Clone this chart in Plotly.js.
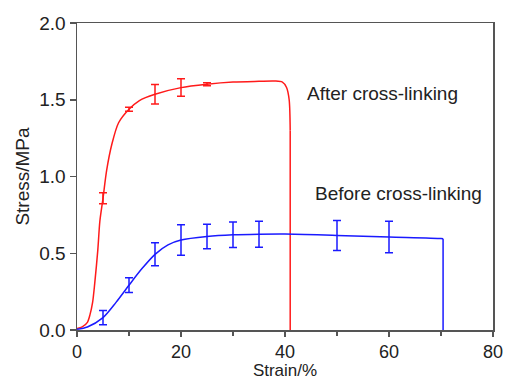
<!DOCTYPE html>
<html>
<head>
<meta charset="utf-8">
<script src="https://cdn.plot.ly/plotly-3.0.1.min.js"></script>
<style>html,body{margin:0;padding:0;background:#fff}#chart{width:506px;height:380px}</style>
</head>
<body>
<div id="chart"></div>
<script>
// After cross-linking: stress-strain curve
const afterStrain = [0, 1, 2, 2.5, 3, 3.4, 4, 4.4, 5, 5.7, 6.7, 8, 10, 12, 15, 20, 25, 30, 35, 38, 39.5, 40.3, 40.8, 41, 41];
const afterStress = [0.01, 0.02, 0.05, 0.1, 0.18, 0.3, 0.52, 0.71, 0.858, 1.04, 1.21, 1.35, 1.438, 1.495, 1.536, 1.579, 1.601, 1.615, 1.62, 1.622, 1.615, 1.58, 1.5, 1.3, 0];
// After cross-linking: error-bar points
const afterErrX = [5, 10, 15, 20, 25];
const afterErrY = [0.858, 1.438, 1.536, 1.579, 1.601];
const afterErr = [0.036, 0.013, 0.063, 0.057, 0.01];

// Before cross-linking: stress-strain curve
const beforeStrain = [0, 2, 5, 7.5, 10, 12.5, 15, 17.5, 20, 25, 30, 35, 40, 50, 60, 70, 70.4, 70.4];
const beforeStress = [0.005, 0.02, 0.081, 0.18, 0.292, 0.40, 0.493, 0.555, 0.586, 0.609, 0.62, 0.624, 0.625, 0.616, 0.606, 0.596, 0.594, 0];
// Before cross-linking: error-bar points
const beforeErrX = [5, 10, 15, 20, 25, 30, 35, 50, 60];
const beforeErrY = [0.081, 0.292, 0.493, 0.586, 0.609, 0.62, 0.624, 0.616, 0.606];
const beforeErr = [0.046, 0.048, 0.075, 0.099, 0.08, 0.083, 0.085, 0.098, 0.103];

const labels = ["After cross-linking", "Before cross-linking"];

const RED = "#ff1a1a", BLUE = "#1a1aff";
const FONT = "Liberation Sans, Arial, sans-serif";

// smooth part = all but the final fracture drop; fracture drop drawn straight
const nA = afterStrain.length, nB = beforeStrain.length;

const traces = [
  {x: afterStrain.slice(0, nA - 1), y: afterStress.slice(0, nA - 1), mode: "lines", line: {color: RED, width: 1.5, shape: "spline", smoothing: 0.8}, hoverinfo: "skip"},
  {x: afterStrain.slice(nA - 2), y: afterStress.slice(nA - 2), mode: "lines", line: {color: RED, width: 1.5}, hoverinfo: "skip"},
  {x: afterErrX, y: afterErrY, mode: "markers", marker: {size: 1, color: RED, opacity: 0},
   error_y: {type: "data", array: afterErr, visible: true, color: RED, thickness: 1.5, width: 4}},
  {x: beforeStrain.slice(0, nB - 1), y: beforeStress.slice(0, nB - 1), mode: "lines", line: {color: BLUE, width: 1.5, shape: "spline", smoothing: 0.8}, hoverinfo: "skip"},
  {x: beforeStrain.slice(nB - 2), y: beforeStress.slice(nB - 2), mode: "lines", line: {color: BLUE, width: 1.5}, hoverinfo: "skip"},
  {x: beforeErrX, y: beforeErrY, mode: "markers", marker: {size: 1, color: BLUE, opacity: 0},
   error_y: {type: "data", array: beforeErr, visible: true, color: BLUE, thickness: 1.5, width: 4}}
];

const layout = {
  width: 506, height: 380,
  margin: {l: 77, r: 13, t: 23, b: 50},
  paper_bgcolor: "#fff", plot_bgcolor: "#fff",
  showlegend: false,
  font: {family: FONT, color: "#222", size: 18},
  xaxis: {
    range: [0, 80], dtick: 20, tick0: 0,
    showgrid: false, zeroline: false,
    showline: true, linecolor: "#555", linewidth: 1.5, mirror: true,
    ticks: "outside", ticklen: 5, tickwidth: 1.5, tickcolor: "#555",
    minor: {dtick: 10, ticks: "outside", ticklen: 4, tickwidth: 1.5, tickcolor: "#555", showgrid: false},
    tickfont: {size: 18, color: "#222"},
    title: {text: "Strain/%", font: {size: 17, color: "#222"}, standoff: 7}
  },
  yaxis: {
    range: [0, 2], dtick: 0.5, tick0: 0, tickformat: ".1f",
    showgrid: false, zeroline: false,
    showline: true, linecolor: "#555", linewidth: 1.5, mirror: true,
    ticks: "outside", ticklen: 6, tickwidth: 1.5, tickcolor: "#555",
    tickfont: {size: 19, color: "#222"},
    title: {text: "Stress/MPa", font: {size: 19, color: "#222"}, standoff: 4}
  },
  annotations: [
    {x: 43.8, y: 1.54, xanchor: "left", yanchor: "middle", text: labels[0], showarrow: false, font: {size: 19, color: "#222"}},
    {x: 45.4, y: 0.889, xanchor: "left", yanchor: "middle", text: labels[1], showarrow: false, font: {size: 19, color: "#222"}}
  ]
};

Plotly.newPlot("chart", traces, layout, {staticPlot: true, displayModeBar: false});
</script>
</body>
</html>
